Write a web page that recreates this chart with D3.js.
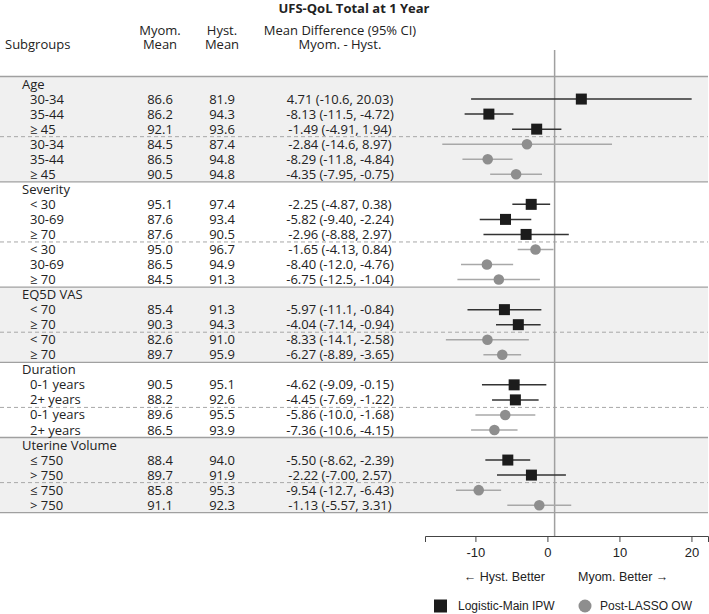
<!DOCTYPE html>
<html>
<head>
<meta charset="utf-8">
<script src="https://cdn.jsdelivr.net/npm/d3@7"></script>
<style>
  body { margin: 0; background: #fff; }
  svg { display: block; }
  .tbl { font-family: "Open Sans", "Noto Sans", sans-serif; font-size: 13px; fill: #222; }
  .sans { font-family: "Liberation Sans", Arial, sans-serif; fill: #222; }
</style>
</head>
<body>
<svg></svg>
<script>
const title = "UFS-QoL Total at 1 Year";
const groupNames = ["Age", "Severity", "EQ5D VAS", "Duration", "Uterine Volume"];
const groupLevels = [
  ["30-34", "35-44", "≥ 45"],
  ["< 30", "30-69", "≥ 70"],
  ["< 70", "≥ 70"],
  ["0-1 years", "2+ years"],
  ["≤ 750", "> 750"]
];
const methods = ["Logistic-Main IPW", "Post-LASSO OW"];

// one entry per plotted row, ordered group -> method -> level
const myomMean = ["86.6", "86.2", "92.1", "84.5", "86.5", "90.5",
                  "95.1", "87.6", "87.6", "95.0", "86.5", "84.5",
                  "85.4", "90.3", "82.6", "89.7",
                  "90.5", "88.2", "89.6", "86.5",
                  "88.4", "89.7", "85.8", "91.1"];
const hystMean = ["81.9", "94.3", "93.6", "87.4", "94.8", "94.8",
                  "97.4", "93.4", "90.5", "96.7", "94.9", "91.3",
                  "91.3", "94.3", "91.0", "95.9",
                  "95.1", "92.6", "95.5", "93.9",
                  "94.0", "91.9", "95.3", "92.3"];
const estimate = ["4.71", "-8.13", "-1.49", "-2.84", "-8.29", "-4.35",
                  "-2.25", "-5.82", "-2.96", "-1.65", "-8.40", "-6.75",
                  "-5.97", "-4.04", "-8.33", "-6.27",
                  "-4.62", "-4.45", "-5.86", "-7.36",
                  "-5.50", "-2.22", "-9.54", "-1.13"];
const lower = ["-10.6", "-11.5", "-4.91", "-14.6", "-11.8", "-7.95",
               "-4.87", "-9.40", "-8.88", "-4.13", "-12.0", "-12.5",
               "-11.1", "-7.14", "-14.1", "-8.89",
               "-9.09", "-7.69", "-10.0", "-10.6",
               "-8.62", "-7.00", "-12.7", "-5.57"];
const upper = ["20.03", "-4.72", "1.94", "8.97", "-4.84", "-0.75",
               "0.38", "-2.24", "2.97", "0.84", "-4.76", "-1.04",
               "-0.84", "-0.94", "-2.58", "-3.65",
               "-0.15", "-1.22", "-1.68", "-4.15",
               "-2.39", "2.57", "-6.43", "3.31"];
const xTicks = [-10, 0, 10, 20];
const refValue = 1;

const width = 709, height = 614;
const svg = d3.select("svg").attr("width", width).attr("height", height);

// build the row layout: a header row per group then its rows
const rows = [];
const blocks = [];
let k = 0, r = 0;
groupNames.forEach((g, gi) => {
  const start = r;
  rows.push({type: "group", label: g, row: r++});
  methods.forEach((m, mi) => {
    groupLevels[gi].forEach(lv => {
      rows.push({type: "data", label: lv, method: mi, row: r++, i: k++});
    });
    if (mi === 0) blocks.push({dash: r});
  });
  blocks.push({group: gi, start: start, end: r});
});
const nRows = r;

const y = d3.scaleLinear().domain([0, nRows]).range([76.5, 512.7]);
const x = d3.scaleLinear().domain([-17, 22.3]).range([425, 708]);
const rowY = i => y(i + 0.5);

// shaded bands
const groupBlocks = blocks.filter(b => b.group !== undefined);
svg.append("g").selectAll("rect")
  .data(groupBlocks.filter(b => b.group % 2 === 0))
  .enter().append("rect")
  .attr("x", 0).attr("width", 708)
  .attr("y", d => y(d.start)).attr("height", d => y(d.end) - y(d.start))
  .attr("fill", "#f0f0f0");

// solid separators
const solid = [0].concat(groupBlocks.map(b => b.end));
svg.append("g").selectAll("line")
  .data(solid).enter().append("line")
  .attr("x1", 0).attr("x2", 708)
  .attr("y1", d => y(d)).attr("y2", d => y(d))
  .attr("stroke", "#a0a0a0").attr("stroke-width", 1.3);

// dashed separators between methods
svg.append("g").selectAll("line")
  .data(blocks.filter(b => b.dash !== undefined)).enter().append("line")
  .attr("x1", 0).attr("x2", 708)
  .attr("y1", d => y(d.dash)).attr("y2", d => y(d.dash))
  .attr("stroke", "#a8a8a8").attr("stroke-width", 1)
  .attr("stroke-dasharray", "4,3");

// reference line
svg.append("line")
  .attr("x1", x(refValue)).attr("x2", x(refValue))
  .attr("y1", 50).attr("y2", 536)
  .attr("stroke", "#a0a0a0").attr("stroke-width", 1.5);

// headers
svg.append("text").attr("class", "tbl")
  .attr("x", 354).attr("y", 13).attr("text-anchor", "middle")
  .attr("font-weight", "bold").text(title);
const headers = [
  {x: 5, a: "start", lines: ["", "Subgroups"]},
  {x: 160, a: "middle", lines: ["Myom.", "Mean"]},
  {x: 222, a: "middle", lines: ["Hyst.", "Mean"]},
  {x: 340, a: "middle", lines: ["Mean Difference (95% CI)", "Myom. - Hyst."]}
];
headers.forEach(h => {
  h.lines.forEach((t, li) => {
    svg.append("text").attr("class", "tbl")
      .attr("x", h.x).attr("y", 30 + li * 14).attr("dy", "0.35em")
      .attr("text-anchor", h.a).text(t);
  });
});

// table text
const tbl = svg.append("g").attr("class", "tbl");
tbl.selectAll("text.lab")
  .data(rows).enter().append("text")
  .attr("x", d => d.type === "group" ? 22 : 30)
  .attr("y", d => rowY(d.row)).attr("dy", "0.35em")
  .text(d => d.label);

const dataRows = rows.filter(d => d.type === "data");
tbl.selectAll("text.my")
  .data(dataRows).enter().append("text")
  .attr("x", 160).attr("y", d => rowY(d.row)).attr("dy", "0.35em")
  .attr("text-anchor", "middle").text(d => myomMean[d.i]);
tbl.selectAll("text.hy")
  .data(dataRows).enter().append("text")
  .attr("x", 222).attr("y", d => rowY(d.row)).attr("dy", "0.35em")
  .attr("text-anchor", "middle").text(d => hystMean[d.i]);
tbl.selectAll("text.df")
  .data(dataRows).enter().append("text")
  .attr("x", 340).attr("y", d => rowY(d.row)).attr("dy", "0.35em")
  .attr("text-anchor", "middle")
  .text(d => estimate[d.i] + " (" + lower[d.i] + ", " + upper[d.i] + ")");

// CI lines
const lineColor = ["#333", "#a8a8a8"];
svg.append("g").selectAll("line")
  .data(dataRows).enter().append("line")
  .attr("x1", d => x(+lower[d.i])).attr("x2", d => x(+upper[d.i]))
  .attr("y1", d => rowY(d.row)).attr("y2", d => rowY(d.row))
  .attr("stroke", d => lineColor[d.method]).attr("stroke-width", 1.5);

// markers
const sq = 11;
svg.append("g").selectAll("rect")
  .data(dataRows.filter(d => d.method === 0)).enter().append("rect")
  .attr("x", d => x(+estimate[d.i]) - sq / 2).attr("y", d => rowY(d.row) - sq / 2)
  .attr("width", sq).attr("height", sq).attr("fill", "#1c1c1c");
svg.append("g").selectAll("circle")
  .data(dataRows.filter(d => d.method === 1)).enter().append("circle")
  .attr("cx", d => x(+estimate[d.i])).attr("cy", d => rowY(d.row))
  .attr("r", 5.3).attr("fill", "#8e8e8e");

// x axis
const axis = svg.append("g")
  .attr("transform", "translate(0,536)")
  .call(d3.axisBottom(x).tickValues(xTicks).tickFormat(d => String(d))
    .tickSizeOuter(0).tickSize(6).tickPadding(6));
axis.select(".domain").attr("stroke", "#444");
axis.selectAll(".tick line").attr("stroke", "#444");
axis.selectAll(".tick text")
  .attr("font-family", "Liberation Sans, Arial, sans-serif")
  .attr("font-size", 13).attr("fill", "#222");

svg.append("text").attr("class", "sans").attr("font-size", 12.5)
  .attr("x", 545).attr("y", 577).attr("dy", "0.35em").attr("text-anchor", "end")
  .text("← Hyst. Better");
svg.append("text").attr("class", "sans").attr("font-size", 12.5)
  .attr("x", 578).attr("y", 577).attr("dy", "0.35em")
  .text("Myom. Better →");

// legend
const legY = 606;
svg.append("rect").attr("x", 434).attr("y", legY - 6.5)
  .attr("width", 13).attr("height", 13).attr("fill", "#1c1c1c");
svg.append("text").attr("class", "sans").attr("font-size", 12)
  .attr("x", 458).attr("y", legY).attr("dy", "0.35em").text(methods[0]);
svg.append("circle").attr("cx", 585).attr("cy", legY).attr("r", 6.5).attr("fill", "#8e8e8e");
svg.append("text").attr("class", "sans").attr("font-size", 12)
  .attr("x", 600).attr("y", legY).attr("dy", "0.35em").text(methods[1]);
</script>
</body>
</html>
